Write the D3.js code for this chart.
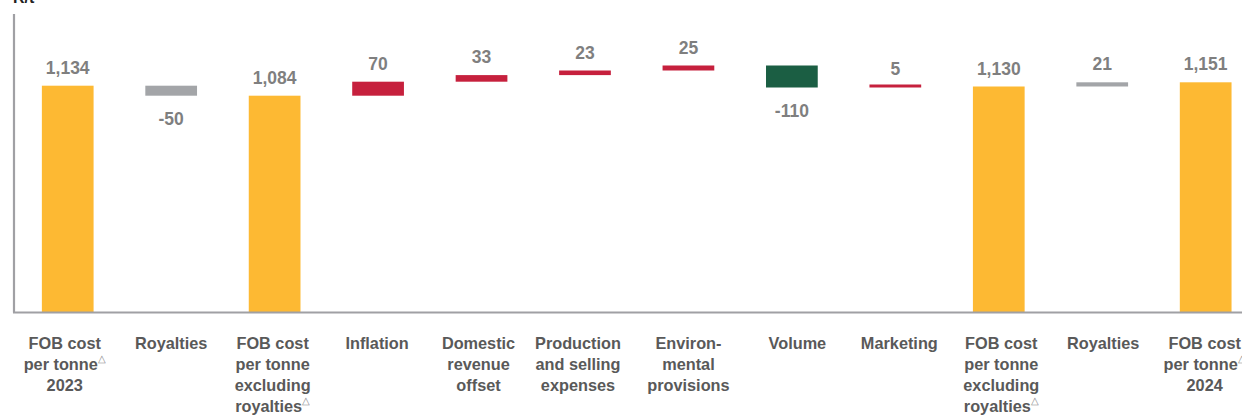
<!DOCTYPE html>
<html>
<head>
<meta charset="utf-8">
<script src="https://cdn.jsdelivr.net/npm/d3@7"></script>
<style>
  html, body { margin: 0; padding: 0; background: #fff; }
  svg { display: block; }
</style>
</head>
<body>
<svg id="chart" width="1242" height="415"></svg>
<script>
// FOB cost per tonne bridge, 2023 to 2024 (R/t)
const categories = [
  ["FOB cost", "per tonne△", "2023"],
  ["Royalties"],
  ["FOB cost", "per tonne", "excluding", "royalties△"],
  ["Inflation"],
  ["Domestic", "revenue", "offset"],
  ["Production", "and selling", "expenses"],
  ["Environ-", "mental", "provisions"],
  ["Volume"],
  ["Marketing"],
  ["FOB cost", "per tonne", "excluding", "royalties△"],
  ["Royalties"],
  ["FOB cost", "per tonne△", "2024"]
];
// "total" bars start at zero; "step" bars move the running total
const kinds  = ["total", "royalty", "total", "step", "step", "step", "step", "step", "step", "total", "royalty", "total"];
const values = [1134, -50, 1084, 70, 33, 23, 25, -110, 5, 1130, 21, 1151];
const valueLabels = ["1,134", "-50", "1,084", "70", "33", "23", "25", "-110", "5", "1,130", "21", "1,151"];
const axisTitle = "R/t";

// small horizontal nudges for the category text boxes (px)
const labelNudge = [-3, 0, -2, -1, -3, -7, 0, 5.5, 4, 2.5, 1, -1];

const colors = {
  total: "#FDB933",
  royalty: "#A3A5A8",
  up: "#C6203D",
  down: "#1B5E43"
};

const svg = d3.select("#chart");
const font = "'Liberation Sans', Arial, sans-serif";

const x = d3.scaleBand()
  .domain(d3.range(values.length))
  .range([16, 1257.4])
  .paddingInner(0.5)
  .paddingOuter(0.25);

const y = d3.scaleLinear().domain([0, 1500]).range([312.5, 12.5]);

// running totals
let running = 0;
const bars = values.map((v, i) => {
  let lo, hi;
  if (kinds[i] === "total") { lo = 0; hi = v; running = v; }
  else { lo = running; hi = running + v; running = hi; }
  const fill = kinds[i] === "total" ? colors.total
    : kinds[i] === "royalty" ? colors.royalty
    : (v >= 0 ? colors.up : colors.down);
  return { i, v, lo, hi, fill, label: valueLabels[i] };
});

const minH = 3;
svg.append("g").selectAll("rect").data(bars).join("rect")
  .attr("x", d => x(d.i))
  .attr("width", x.bandwidth())
  .attr("y", d => {
    const top = y(Math.max(d.lo, d.hi)), bot = y(Math.min(d.lo, d.hi));
    return bot - top < minH ? bot - minH : top;
  })
  .attr("height", d => Math.max(minH, Math.abs(y(d.lo) - y(d.hi))))
  .attr("fill", d => d.fill);

// value labels: above rising/total bars, below falling bars
svg.append("g").selectAll("text").data(bars).join("text")
  .attr("x", d => x(d.i) + x.bandwidth() / 2)
  .attr("y", d => d.v >= 0 ? y(Math.max(d.lo, d.hi)) - 12 : y(Math.min(d.lo, d.hi)) + 29)
  .attr("text-anchor", "middle")
  .attr("font-family", font)
  .attr("font-weight", "bold")
  .attr("font-size", 17.5)
  .attr("fill", "#7F7F7F")
  .text(d => d.label);

// axes lines
svg.append("line")
  .attr("x1", 14).attr("x2", 14).attr("y1", 14).attr("y2", y(0))
  .attr("stroke", "#A0A0A4").attr("stroke-width", 2.2);
svg.append("line")
  .attr("x1", 13).attr("x2", 1242).attr("y1", y(0)).attr("y2", y(0))
  .attr("stroke", "#A0A0A4").attr("stroke-width", 2.2);

svg.append("text")
  .attr("x", 13).attr("y", 3)
  .attr("font-family", font).attr("font-weight", "bold")
  .attr("font-size", 16).attr("fill", "#222")
  .text(axisTitle);

// category labels, several lines each; the △ is drawn as a small superscript
const cat = svg.append("g").selectAll("text").data(categories).join("text")
  .attr("text-anchor", "middle")
  .attr("font-family", font)
  .attr("font-weight", "bold")
  .attr("font-size", 16.3)
  .attr("fill", "#595959")
  .attr("transform", (d, i) => `translate(${x(i) + x.bandwidth() / 2 + labelNudge[i]},349)`);

cat.each(function(lines) {
  const t = d3.select(this);
  lines.forEach((line, k) => {
    const hasMark = line.endsWith("△");
    const main = hasMark ? line.slice(0, -1) : line;
    const ts = t.append("tspan").attr("x", 0).attr("y", k * 21).text(main);
    if (hasMark) {
      ts.append("tspan")
        .attr("font-size", 10).attr("font-weight", "normal")
        .attr("fill", "#8C8C8C").attr("dy", -8).text("△");
    }
  });
});
</script>
</body>
</html>
